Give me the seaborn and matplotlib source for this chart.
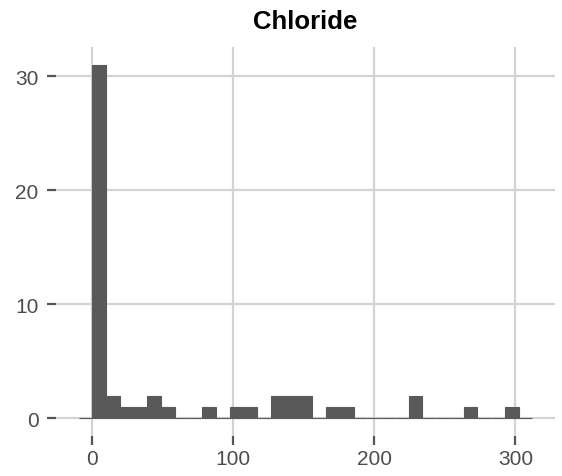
import numpy as np
import pandas as pd
import matplotlib
matplotlib.use("Agg")
import matplotlib.pyplot as plt
import seaborn as sns

# ---- data ----
title = "Chloride"
bin_start = -9.75
bin_width = 9.75
counts = [0, 31, 2, 1, 1, 2, 1, 0, 0, 1,
          0, 1, 1, 0, 2, 2, 2, 0, 1, 1,
          0, 0, 0, 0, 2, 0, 0, 0, 1, 0,
          0, 1, 0]
x_ticks = [0, 100, 200, 300]
y_ticks = [0, 10, 20, 30]

edges = [bin_start + bin_width * i for i in range(len(counts) + 1)]
centers = [(edges[i] + edges[i + 1]) / 2 for i in range(len(counts))]
df = pd.DataFrame({"center": centers, "count": counts})

sns.set_theme(style="white")
plt.rcParams["font.family"] = ["Liberation Sans", "DejaVu Sans"]

fig = plt.figure(figsize=(5.62, 4.77), dpi=100)
ax = fig.add_axes([56 / 562, 40 / 477, (555 - 56) / 562, (437 - 48) / 477])

bar_color = "#595959"
sns.histplot(data=df, x="center", weights="count", bins=edges, color=bar_color,
             alpha=1, edgecolor=bar_color, linewidth=0.8, ax=ax)

span = edges[-1] - edges[0]
ax.set_xlim(edges[0] - 0.05 * span, edges[-1] + 0.05 * span)
ymax = max(counts)
ax.set_ylim(-0.05 * ymax, ymax * 1.05)

ax.set_xticks(x_ticks)
ax.set_yticks(y_ticks)
ax.grid(True, color="#D3D3D3", linewidth=1.6)
ax.set_axisbelow(True)
for s in ax.spines.values():
    s.set_visible(False)

ax.tick_params(axis="both", which="major", length=6.5, width=1.6,
               color="#555555", labelcolor="#4D4D4D", labelsize=15,
               direction="out", bottom=True, left=True)
ax.tick_params(axis="x", pad=3)
ax.tick_params(axis="y", pad=6)
ax.set_xlabel("")
ax.set_ylabel("")
ax.set_title(title, fontsize=18.5, fontweight="bold", color="black", pad=14)

fig.savefig("out.png", dpi=100, facecolor="white")
